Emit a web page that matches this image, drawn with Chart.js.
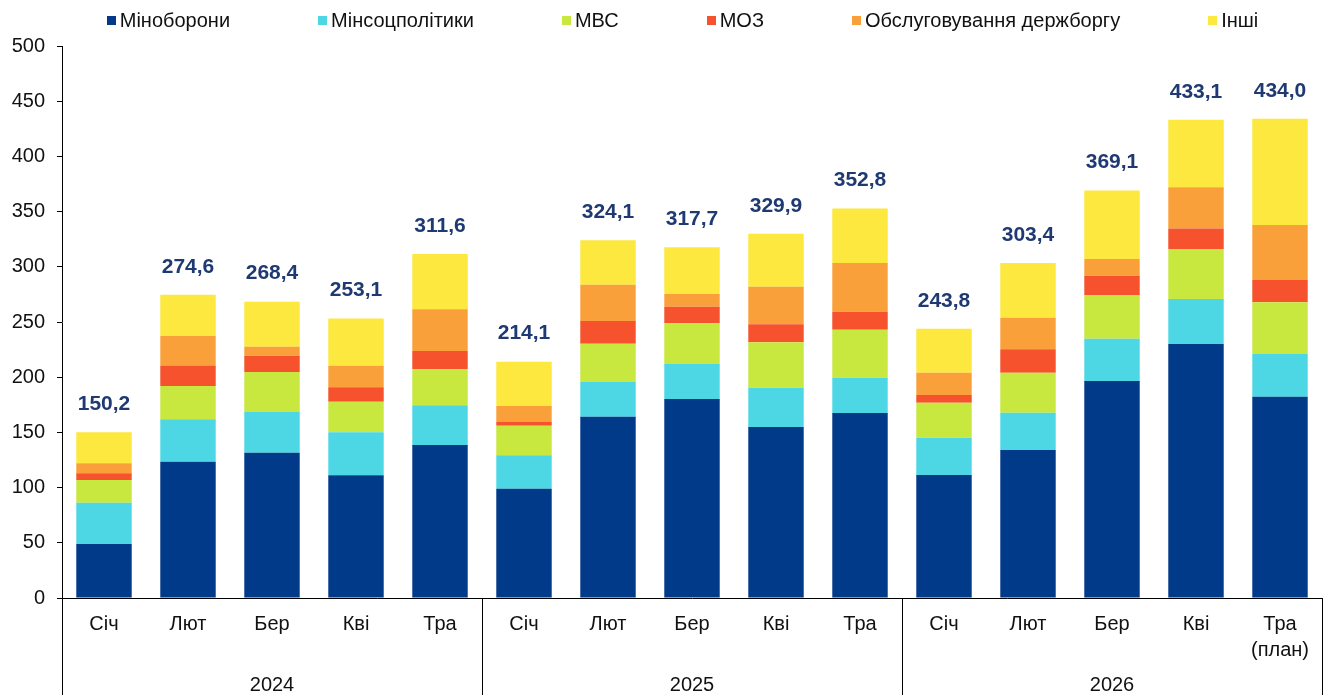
<!DOCTYPE html>
<html>
<head>
<meta charset="utf-8">
<script src="https://cdn.jsdelivr.net/npm/chart.js@4"></script>
<style>
  body { margin: 0; background: #fff; }
  #wrap { position: relative; width: 1327px; height: 695px; }
  #legend { position: absolute; top: 9px; left: 0; width: 1327px; display: flex; justify-content: center;
            gap: 88px; font: 20px "Liberation Sans", Arial, sans-serif; color: #111; padding-left: 38px; box-sizing: border-box; }
  #legend span.item { display: flex; align-items: center; }
  #legend i { display: inline-block; width: 9px; height: 9px; margin-right: 4px; }
</style>
</head>
<body>
<div id="wrap">
  <canvas id="chart" width="1327" height="695"></canvas>
  <div id="legend"></div>
</div>
<script>
const months = [['Січ'], ['Лют'], ['Бер'], ['Кві'], ['Тра'],
                ['Січ'], ['Лют'], ['Бер'], ['Кві'], ['Тра'],
                ['Січ'], ['Лют'], ['Бер'], ['Кві'], ['Тра', '(план)']];
const years = ['2024', '2025', '2026'];

const seriesNames = ['Міноборони', 'Мінсоцполітики', 'МВС', 'МОЗ', 'Обслуговування держборгу', 'Інші'];
const seriesColors = ['#023A8A', '#4DD7E4', '#C8E840', '#F5522D', '#F9A03A', '#FCE83F'];

// values, billions UAH
const minOborony = [49.0, 123.5, 131.6, 111.1, 138.6, 99.0, 164.2, 180.3, 154.9, 167.6, 111.4, 134.1, 196.6, 230.1, 182.4];
const minSotsPolityky = [37.3, 38.3, 36.9, 39.0, 35.9, 30.2, 31.8, 31.7, 35.6, 32.0, 33.8, 33.8, 38.3, 40.7, 38.6];
const mvs = [20.6, 30.2, 36.2, 27.7, 32.6, 26.9, 34.4, 36.8, 41.1, 43.4, 31.7, 36.2, 39.6, 45.3, 46.8];
const moz = [6.0, 18.5, 14.8, 13.0, 16.6, 3.3, 20.5, 15.1, 16.3, 16.3, 7.0, 21.2, 17.5, 18.7, 20.2];
const debtService = [9.1, 26.8, 8.1, 19.6, 37.8, 14.5, 32.9, 11.5, 34.1, 44.1, 20.2, 28.6, 15.0, 37.2, 49.9];
const others = [28.2, 37.3, 40.8, 42.7, 50.1, 40.2, 40.3, 42.3, 47.9, 49.4, 39.7, 49.5, 62.1, 61.1, 96.1];
const totals = [150.2, 274.6, 268.4, 253.1, 311.6, 214.1, 324.1, 317.7, 329.9, 352.8, 243.8, 303.4, 369.1, 433.1, 434.0];

const seriesData = [minOborony, minSotsPolityky, mvs, moz, debtService, others];

// html legend
const legendEl = document.getElementById('legend');
seriesNames.forEach((name, i) => {
    const item = document.createElement('span');
    item.className = 'item';
    item.innerHTML = '<i style="background:' + seriesColors[i] + '"></i>' + name;
    legendEl.appendChild(item);
});

// totals above bars
const totalsPlugin = {
    id: 'totals',
    afterDatasetsDraw(chart) {
        const ctx = chart.ctx;
        const meta = chart.getDatasetMeta(0);
        const y = chart.scales.y;
        ctx.save();
        ctx.font = 'bold 21px "Liberation Sans", Arial, sans-serif';
        ctx.fillStyle = '#1F3A72';
        ctx.textAlign = 'center';
        ctx.textBaseline = 'middle';
        totals.forEach((t, i) => {
            const x = meta.data[i].x;
            ctx.fillText(t.toFixed(1).replace('.', ','), x, y.getPixelForValue(t) - 28);
        });
        ctx.restore();
    }
};

// year groups and separators under the x axis
const yearsPlugin = {
    id: 'years',
    afterDraw(chart) {
        const ctx = chart.ctx;
        const x = chart.scales.x;
        const area = chart.chartArea;
        const step = (x.right - x.left) / months.length;
        ctx.save();
        ctx.strokeStyle = '#000';
        ctx.lineWidth = 1;
        for (let g = 0; g <= years.length; g++) {
            const px = Math.round(x.left + g * 5 * step) + 0.5;
            ctx.beginPath();
            ctx.moveTo(px, area.bottom);
            ctx.lineTo(px, chart.height);
            ctx.stroke();
        }
        ctx.font = '20px "Liberation Sans", Arial, sans-serif';
        ctx.fillStyle = '#111';
        ctx.textAlign = 'center';
        ctx.textBaseline = 'middle';
        years.forEach((yr, g) => {
            ctx.fillText(yr, x.left + (g * 5 + 2.5) * step, 685);
        });
        ctx.restore();
    }
};

const ctx = document.getElementById('chart').getContext('2d');
new Chart(ctx, {
    type: 'bar',
    data: {
        labels: months,
        datasets: seriesNames.map((name, i) => ({
            label: name,
            data: seriesData[i],
            backgroundColor: seriesColors[i],
            barPercentage: 0.66,
            categoryPercentage: 1
        }))
    },
    options: {
        responsive: false,
        animation: false,
        layout: { padding: { top: 46, right: 5, left: 0, bottom: 0 } },
        plugins: {
            legend: { display: false },
            tooltip: { enabled: false }
        },
        scales: {
            x: {
                stacked: true,
                grid: { display: false },
                border: { display: true, color: '#000', width: 1 },
                ticks: {
                    color: '#111',
                    padding: 5,
                    maxRotation: 0,
                    font: { family: '"Liberation Sans", Arial, sans-serif', size: 20, lineHeight: 1.3 }
                },
                afterFit(scale) { scale.height = 97; }
            },
            y: {
                stacked: true,
                min: 0,
                max: 500,
                ticks: {
                    stepSize: 50,
                    color: '#111',
                    padding: 12,
                    font: { family: '"Liberation Sans", Arial, sans-serif', size: 20 }
                },
                grid: { drawOnChartArea: false, drawTicks: true, tickLength: 5, color: '#000' },
                border: { display: true, color: '#000', width: 1 },
                afterFit(scale) { scale.width = 62; }
            }
        }
    },
    plugins: [totalsPlugin, yearsPlugin]
});
</script>
</body>
</html>
